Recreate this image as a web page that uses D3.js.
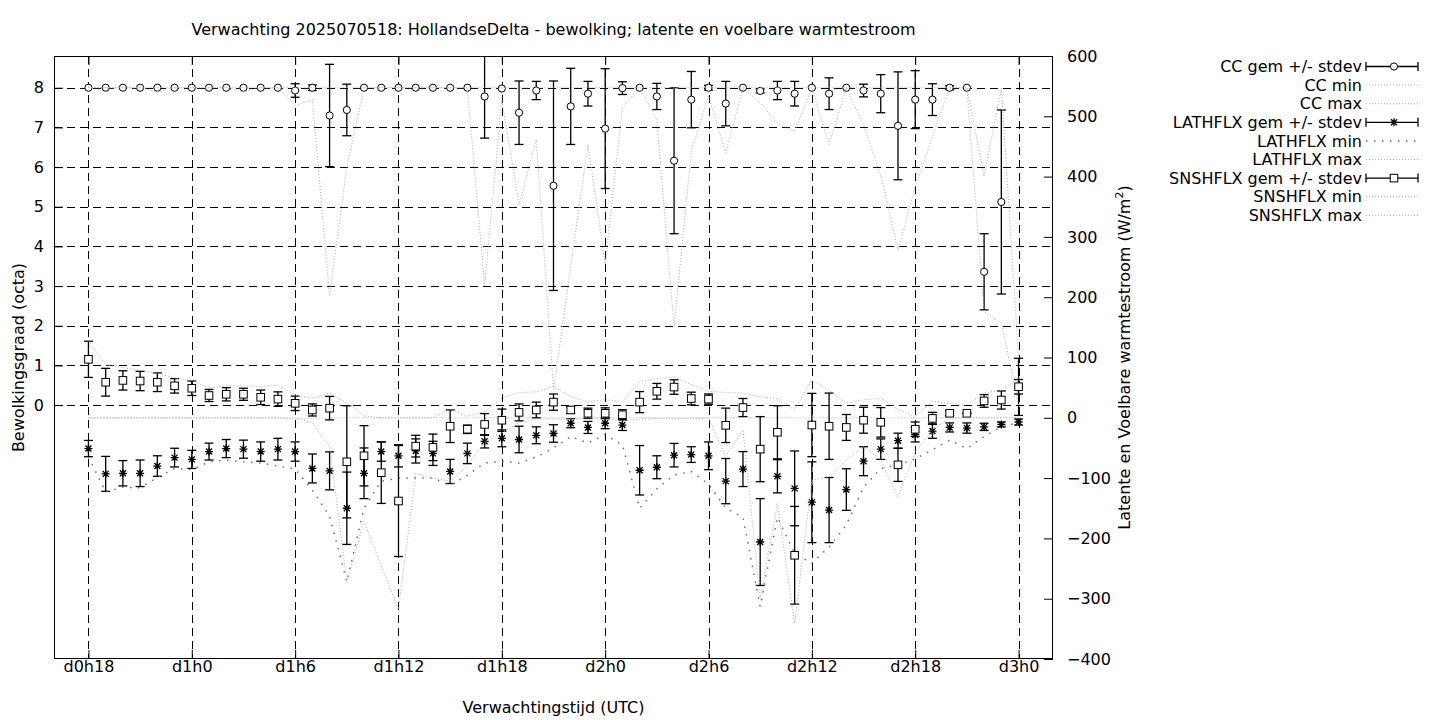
<!DOCTYPE html>
<html><head><meta charset="utf-8">
<script src="https://cdn.jsdelivr.net/npm/d3@7/dist/d3.min.js"></script>
<style>
body{margin:0;background:#fff;}
svg text{font-family:"DejaVu Sans",sans-serif;font-size:16px;fill:#000;}
</style></head><body>
<svg id="c" width="1440" height="720"></svg>
<script>
// ---------------- DATA ----------------
const hours = [18,19,20,21,22,23,24,25,26,27,28,29,30,31,32,33,34,35,36,37,38,39,40,41,42,43,44,45,
  46,47,48,49,50,51,52,53,54,55,56,57,58,59,60,61,62,63,64,65,66,67,68,69,70,71,72];
const xTickValues = [18,24,30,36,42,48,54,60,66,72];
const xTickLabels = ["d0h18","d1h0","d1h6","d1h12","d1h18","d2h0","d2h6","d2h12","d2h18","d3h0"];
const yLeftTicks = [0,1,2,3,4,5,6,7,8];
const yRightTicks = [-400,-300,-200,-100,0,100,200,300,400,500,600];

const ccMean = [8,8,8,8,8,8,8,8,8,8,8,8,
  7.93,8.0,7.30,7.44,8,8,8,8,8,8,8,
  7.78,7.98,7.37,7.93,5.53,7.53,7.85,6.97,7.99,8,
  7.78,6.16,7.70,8.0,7.60,8,7.92,7.93,7.85,8,
  7.85,8,7.93,7.85,7.04,7.70,7.70,8.0,8.0,3.36,5.12,0.46];
const ccSd = [0,0,0,0,0,0,0,0,0,0,0,0,
  0.17,0.07,1.29,0.65,0,0,0,0,0,0,0,
  1.05,0,0.80,0.23,2.64,0.96,0.31,1.51,0.16,0,
  0.33,1.84,0.71,0.06,0.56,0,0.05,0.23,0.31,0,
  0.40,0,0.16,0.48,1.36,0.73,0.40,0.05,0,0.96,2.32,0.72];
const ccMin = [8,8,8,8,7.9,8,8,8,8,7.9,8,8,
  7.55,7.7,2.75,6.0,8,8,8,8,8,8,8,
  3.0,7.7,5.05,6.7,0.4,3.5,6.57,3.55,7.5,8,
  7.2,1.98,6.4,7.8,6.36,8,7.62,7.1,6.9,8,
  6.57,8,7.07,5.8,3.9,5.5,6.77,8,8,2.35,2.07,0.0];
const ccMax = [8,8,8,8,8,8,8,8,8,8,8,8,
  8,8,8,8,8,8,8,8,8,8,8,
  8,8,8,8,8,8,8,8,8,8,
  8,8,8,8,8,8,8,8,8,8,
  8,8,8,8,8,8,8,8,8,5.77,8,1.2];

const lathMean = [-51,-93,-92,-92,-80,-66,-69,-56,-51,-52,-56,-52,
  -56,-84,-88,-150,-92,-56,-63,-55,-59,-89,-59,
  -39,-34,-36,-29,-26,-9,-16,-9,-12,-87,
  -82,-62,-61,-63,-105,-85,-206,-97,-117,-140,
  -153,-119,-72,-52,-38,-28,-22,-16,-17,-15,-11,-7];
const lathSd = [13.5,29,21,22,17,15.5,15,14,15,15,16,18,
  16,24,31.5,60,42,16,18.5,20,20,20,17,
  11,14,22,14,14.5,7.5,10,9,9,41,
  19,19.5,13,23,37.5,29,72,27.5,62,67,
  54,34.5,24,17,12.5,12,12,7.5,8.5,6,4,5];
const lathMin = [-65,-123,-115,-116,-99,-84,-86,-73,-70,-73,-75,-80,
  -85,-120,-163,-272,-150,-105,-100,-100,-100,-112,-95,
  -75,-72,-75,-65,-50,-31,-42,-28,-45,-150,
  -118,-95,-89,-110,-150,-165,-313,-165,-225,-241,
  -214,-178,-115,-84,-78,-68,-53,-37,-51,-31,-15,-8];
const lathMax = [0,0,0,0,0,0,0,0,0,0,0,0,
  -2,-1,0,0,0,0,0,0,0,0,0,
  0,0,0,0,0,0,0,0,0,0,
  0,0,0,0,0,0,0,0,0,0,
  0,0,0,0,0,0,0,0,0,0,0,0];

const snsMean = [97,59,62,61,59,53,49,37,39,39,34,31,
  24,13,16,-73,-63,-91,-138,-47,-49,-14,-19,
  -11,-4,9,13,26,13,7.5,7.5,5,26,
  44,51,32,31,-12.5,17,-52,-24,-228,-12,
  -14,-16,-4,-7.5,-78,-19,-1,7.5,7.5,28,29.5,51.5];
const snsSd = [30,23,16,16,15.5,12,12,10,11,10,12,12,
  12,10,19.5,93,50,51,92,18,22,27,7,
  18,18.5,14,13,13.5,5.5,8.5,9,8.5,17.5,
  13,12,10.5,8.5,28.5,15,54,44,81,52.5,
  55,21.5,21.5,24.5,27.5,12,10,4,0.5,10.5,15,12];
const snsMin = [0,0,0,0,0,0,0,0,0,0,0,0,
  0,-8,-48,-272,-172,-245,-318,-92,-100,-105,-80,
  -40,-25,-8,-2,-2,-2,-2,-2,-5,-2,
  -1,-1,-1,-1,-64,-20,-300,-142,-341,-103,
  -98,-70,-48,-70,-131,-57,-20,0,0,0,0,0];
const snsMax = [128,88,83,79,74,66,62,49,53,53,52,54,
  38,32,41,25,3,0,0,0,0,14,3,
  10,32,42,43,52,35,27,30,27,60,
  65,68,55,44,42,41,35,32,13,63,
  46,24,30,32,14,2,27,24,21,41,46,65];

const titleText = "Verwachting 2025070518: HollandseDelta - bewolking; latente en voelbare warmtestroom";
const legendLabels = ["CC gem +/- stdev","CC min","CC max","LATHFLX gem +/- stdev","LATHFLX min","LATHFLX max","SNSHFLX gem +/- stdev","SNSHFLX min","SNSHFLX max"];

// ---------------- CHART ----------------
const svg = d3.select("#c");
const L = 54, R = 1053, T = 56, B = 659;
const x = d3.scaleLinear().domain([16, 74]).range([L, R]);
const yL = d3.scaleLinear().domain([-6.4, 8.8]).range([B, T]);
const yR = d3.scaleLinear().domain([-400, 600]).range([B, T]);

svg.append("defs").append("clipPath").attr("id","plotclip")
  .append("rect").attr("x",L).attr("y",T).attr("width",R-L).attr("height",B-T);

// grid
const grid = svg.append("g").attr("stroke","#000").attr("stroke-width",1).attr("stroke-dasharray","8,5").attr("fill","none");
grid.selectAll("line.gx").data(xTickValues).join("line")
  .attr("x1",d=>Math.round(x(d))+0.5).attr("x2",d=>Math.round(x(d))+0.5).attr("y1",T).attr("y2",B);
grid.selectAll("line.gy").data(yLeftTicks).join("line")
  .attr("y1",d=>Math.round(yL(d))+0.5).attr("y2",d=>Math.round(yL(d))+0.5).attr("x1",L).attr("x2",R);

const plot = svg.append("g").attr("clip-path","url(#plotclip)");

const DENSE = {stroke:"#ababab", width:1, dash:"1,2"};
const SPARSE = {stroke:"#6e6e6e", width:1.5, dash:"1.5,6.5"};

function symbol(g, type){
  if(type==="circle"){
    g.append("circle").attr("r",3.6).attr("fill","#fff").attr("stroke","#000").attr("stroke-width",1);
  } else if(type==="square"){
    g.append("rect").attr("x",-3.8).attr("y",-3.8).attr("width",7.6).attr("height",7.6)
      .attr("fill","#fff").attr("stroke","#000").attr("stroke-width",1);
  } else {
    g.append("path").attr("d","M-4,0H4M0,-4V4M-3,-3L3,3M-3,3L3,-3")
      .attr("stroke","#000").attr("stroke-width",1.3).attr("fill","none");
  }
}

function errorSeries(mean, sd, yScale, type){
  const data = hours.map((h,i)=>({h, m:mean[i], s:sd[i]}));
  const g = plot.append("g");
  const bars = g.append("g").attr("stroke","#000").attr("stroke-width",1.3).attr("fill","none");
  data.filter(d=>d.s>0).forEach(d=>{
    const cx = x(d.h), y1 = yScale(d.m - d.s), y2 = yScale(d.m + d.s);
    bars.append("line").attr("x1",cx).attr("x2",cx).attr("y1",y1).attr("y2",y2);
    bars.append("line").attr("x1",cx-4.5).attr("x2",cx+4.5).attr("y1",y1).attr("y2",y1);
    bars.append("line").attr("x1",cx-4.5).attr("x2",cx+4.5).attr("y1",y2).attr("y2",y2);
  });
  data.forEach(d=>{
    const s = g.append("g").attr("transform",`translate(${x(d.h)},${yScale(d.m)})`);
    symbol(s, type);
  });
}

function rangeLine(vals, yScale, st){
  const line = d3.line().x((d,i)=>x(hours[i])).y(d=>yScale(d));
  plot.append("path").attr("d",line(vals)).attr("fill","none")
    .attr("stroke",st.stroke).attr("stroke-width",st.width).attr("stroke-dasharray",st.dash);
}

errorSeries(ccMean, ccSd, yL, "circle");
rangeLine(ccMin, yL, DENSE);
rangeLine(ccMax, yL, DENSE);
errorSeries(lathMean, lathSd, yR, "star");
rangeLine(lathMin, yR, SPARSE);
rangeLine(lathMax, yR, DENSE);
errorSeries(snsMean, snsSd, yR, "square");
rangeLine(snsMin, yR, DENSE);
rangeLine(snsMax, yR, DENSE);

// axes
const ax = svg.append("g").attr("transform",`translate(0,${B})`)
  .call(d3.axisBottom(x).tickValues(xTickValues).tickFormat((d,i)=>xTickLabels[i]).tickSizeInner(-9).tickSizeOuter(0).tickPadding(2));
const axT = svg.append("g").attr("transform",`translate(0,${T})`)
  .call(d3.axisTop(x).tickValues(xTickValues).tickFormat("").tickSizeInner(-9).tickSizeOuter(0));
const ayL = svg.append("g").attr("transform",`translate(${L},0)`)
  .call(d3.axisLeft(yL).tickValues(yLeftTicks).tickFormat(d3.format("d")).tickSizeInner(-9).tickSizeOuter(0).tickPadding(10));
const ayR = svg.append("g").attr("transform",`translate(${R},0)`)
  .call(d3.axisRight(yR).tickValues(yRightTicks).tickFormat(d3.format("d")).tickSizeInner(-9).tickSizeOuter(0).tickPadding(14));
[ax,axT,ayL,ayR].forEach(a=>{
  a.select(".domain").remove();
  a.selectAll("line").attr("stroke","#000").attr("stroke-width",1);
  a.selectAll("text").attr("font-family","DejaVu Sans").attr("font-size",16).attr("fill","#000");
});

// border
svg.append("rect").attr("x",L+0.5).attr("y",T+0.5).attr("width",R-L-1).attr("height",B-T-1)
  .attr("fill","none").attr("stroke","#000").attr("stroke-width",1);

// titles
svg.append("text").attr("x",(L+R)/2).attr("y",35).attr("text-anchor","middle").text(titleText);
svg.append("text").attr("x",(L+R)/2).attr("y",713).attr("text-anchor","middle").text("Verwachtingstijd (UTC)");
svg.append("text").attr("transform",`translate(24,${(T+B)/2}) rotate(-90)`).attr("text-anchor","middle")
  .text("Bewolkingsgraad (octa)");
const rt = svg.append("text").attr("transform",`translate(1130,${(T+B)/2}) rotate(-90)`).attr("text-anchor","middle");
rt.append("tspan").text("Latente en Voelbare warmtestroom (W/m");
rt.append("tspan").attr("font-size",11).attr("dy",-7).text("2");
rt.append("tspan").attr("dy",7).text(")");

// legend
const lg = svg.append("g");
const legTypes = ["circle","dense","dense","star","sparse","dense","square","dense","dense"];
legendLabels.forEach((lab,i)=>{
  const yy = 66.5 + i*18.6;
  lg.append("text").attr("x",1362).attr("y",yy).attr("dy","0.35em").attr("text-anchor","end").text(lab);
  const t = legTypes[i];
  if(t==="dense" || t==="sparse"){
    const st = t==="dense" ? DENSE : SPARSE;
    lg.append("line").attr("x1",1366).attr("x2",1418).attr("y1",yy).attr("y2",yy)
      .attr("stroke",st.stroke).attr("stroke-width",st.width).attr("stroke-dasharray",st.dash);
  } else {
    const g = lg.append("g").attr("stroke","#000").attr("stroke-width",1.3);
    g.append("line").attr("x1",1366).attr("x2",1418).attr("y1",yy).attr("y2",yy);
    g.append("line").attr("x1",1366).attr("x2",1366).attr("y1",yy-4.5).attr("y2",yy+4.5);
    g.append("line").attr("x1",1418).attr("x2",1418).attr("y1",yy-4.5).attr("y2",yy+4.5);
    const s = lg.append("g").attr("transform",`translate(1394,${yy})`);
    symbol(s, t);
  }
});
</script>
</body></html>
